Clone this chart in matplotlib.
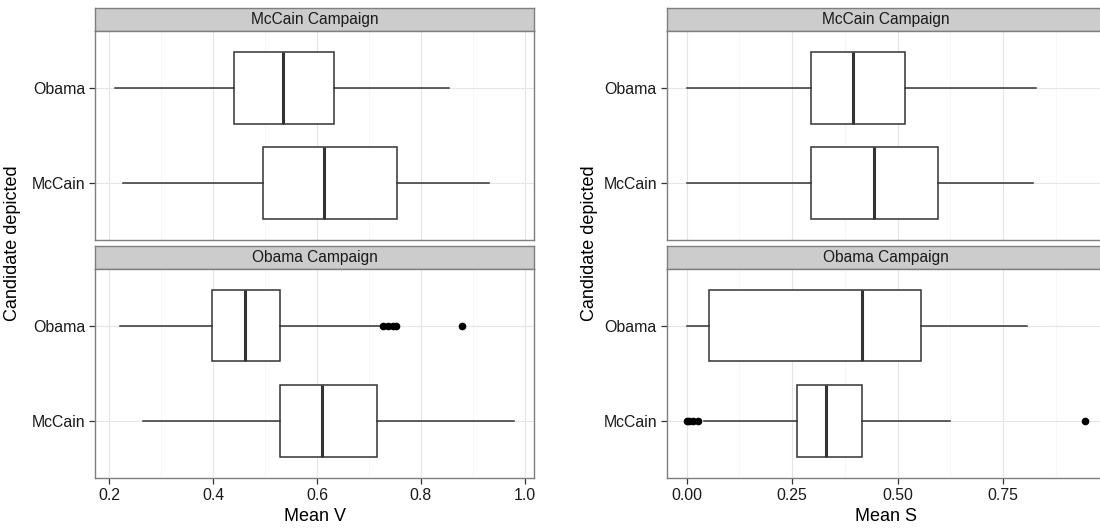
import matplotlib
matplotlib.use("Agg")
import matplotlib.pyplot as plt
from matplotlib.ticker import FixedLocator

plt.rcParams['font.family'] = ['Liberation Sans', 'DejaVu Sans']

# categories on the y axis (bottom to top)
candidates = ["McCain", "Obama"]
campaigns = ["McCain Campaign", "Obama Campaign"]

# five-number summaries: (whisker low, q1, median, q3, whisker high)
v_mccain_campaign = [(0.226, 0.496, 0.614, 0.754, 0.932),   # McCain
                     (0.211, 0.440, 0.534, 0.633, 0.854)]   # Obama
v_obama_campaign = [(0.264, 0.528, 0.610, 0.715, 0.980),
                    (0.220, 0.397, 0.461, 0.529, 0.723)]
v_mccain_fliers = [[], []]
v_obama_fliers = [[], [0.727, 0.737, 0.746, 0.752, 0.880]]

s_mccain_campaign = [(0.000, 0.295, 0.443, 0.595, 0.820),
                     (0.000, 0.294, 0.395, 0.517, 0.828)]
s_obama_campaign = [(0.0415, 0.262, 0.331, 0.415, 0.623),
                    (0.000, 0.054, 0.415, 0.554, 0.807)]
s_mccain_fliers = [[], []]
s_obama_fliers = [[0.000, 0.006, 0.014, 0.027, 0.944], []]

v_ticks = [0.2, 0.4, 0.6, 0.8, 1.0]
v_minor = [0.3, 0.5, 0.7, 0.9]
v_labels = ["0.2", "0.4", "0.6", "0.8", "1.0"]
s_ticks = [0.0, 0.25, 0.5, 0.75]
s_minor = [0.125, 0.375, 0.625, 0.875]
s_labels = ["0.00", "0.25", "0.50", "0.75"]

W, H = 1100, 531
DARK = "#333333"
BORDER = "#7f7f7f"


def px_axes(fig, x0, y0, x1, y1):
    # pixel box (top-left origin) -> figure axes
    return fig.add_axes([x0 / W, 1 - y1 / H, (x1 - x0) / W, (y1 - y0) / H])


def strip(fig, x0, y0, x1, y1, text):
    ax = px_axes(fig, x0, y0, x1, y1)
    ax.set_facecolor("#cccccc")
    ax.set_xticks([])
    ax.set_yticks([])
    for sp in ax.spines.values():
        sp.set_color(BORDER)
        sp.set_linewidth(1.0)
    ax.text(0.5, 0.5, text, transform=ax.transAxes, ha="center",
            va="center", fontsize=11.2, color="#1a1a1a")


def panel(fig, box, summaries, fliers, xlim, ticks, minor, labels, show_x, xlabel):
    ax = px_axes(fig, *box)
    stats = []
    for (lo, q1, med, q3, hi), fl in zip(summaries, fliers):
        stats.append(dict(whislo=lo, q1=q1, med=med, q3=q3, whishi=hi,
                          fliers=fl))
    ax.bxp(stats, positions=[1, 2], widths=0.75, orientation="horizontal",
           patch_artist=True, showcaps=False,
           boxprops=dict(facecolor="white", edgecolor=DARK, linewidth=1.1),
           whiskerprops=dict(color=DARK, linewidth=1.1),
           medianprops=dict(color=DARK, linewidth=2.2),
           flierprops=dict(marker="o", markerfacecolor="black",
                           markeredgecolor="black", markersize=4.5,
                           linestyle="none"))
    ax.set_xlim(*xlim)
    ax.set_ylim(0.4, 2.6)
    ax.set_xticks(ticks)
    ax.xaxis.set_minor_locator(FixedLocator(minor))
    ax.set_yticks([1, 2])
    ax.set_yticklabels(candidates)
    ax.grid(True, which="major", color="#e5e5e5", linewidth=0.8)
    ax.grid(True, which="minor", axis="x", color="#f7f7f7", linewidth=0.8)
    ax.set_axisbelow(True)
    for sp in ax.spines.values():
        sp.set_color(BORDER)
        sp.set_linewidth(1.0)
    ax.tick_params(axis="both", which="major", length=4.5, width=0.9,
                   color=DARK, labelsize=11.4, labelcolor="#1a1a1a", pad=2.5)
    ax.tick_params(axis="x", which="minor", length=0)
    if show_x:
        ax.set_xticklabels(labels)
        ax.set_xlabel(xlabel, fontsize=13, labelpad=4)
    else:
        ax.tick_params(axis="x", which="major", length=0, labelbottom=False)
    return ax


def main():
    fig = plt.figure(figsize=(W / 100, H / 100), dpi=100)

    # left: Mean V
    lx0, lx1 = 95, 534.3
    v_lim = (0.1725, 1.0185)
    strip(fig, lx0, 8.3, lx1, 31, campaigns[0])
    panel(fig, (lx0, 31, lx1, 240), v_mccain_campaign, v_mccain_fliers,
          v_lim, v_ticks, v_minor, v_labels, False, "")
    strip(fig, lx0, 246, lx1, 268.7, campaigns[1])
    panel(fig, (lx0, 268.7, lx1, 478), v_obama_campaign, v_obama_fliers,
          v_lim, v_ticks, v_minor, v_labels, True, "Mean V")

    # right: Mean S (panel runs past the right edge)
    rx0, rx1 = 666.7, 1105
    s_lim = (-0.0472, 0.991)
    strip(fig, rx0, 8.3, rx1, 31, campaigns[0])
    panel(fig, (rx0, 31, rx1, 240), s_mccain_campaign, s_mccain_fliers,
          s_lim, s_ticks, s_minor, s_labels, False, "")
    strip(fig, rx0, 246, rx1, 268.7, campaigns[1])
    panel(fig, (rx0, 268.7, rx1, 478), s_obama_campaign, s_obama_fliers,
          s_lim, s_ticks, s_minor, s_labels, True, "Mean S")

    for x in (13, 590):
        fig.text(x / W, 1 - 243 / H, "Candidate depicted", rotation=90,
                 ha="center", va="center", fontsize=13)

    fig.savefig("out.png", dpi=100)


if __name__ == "__main__":
    main()
